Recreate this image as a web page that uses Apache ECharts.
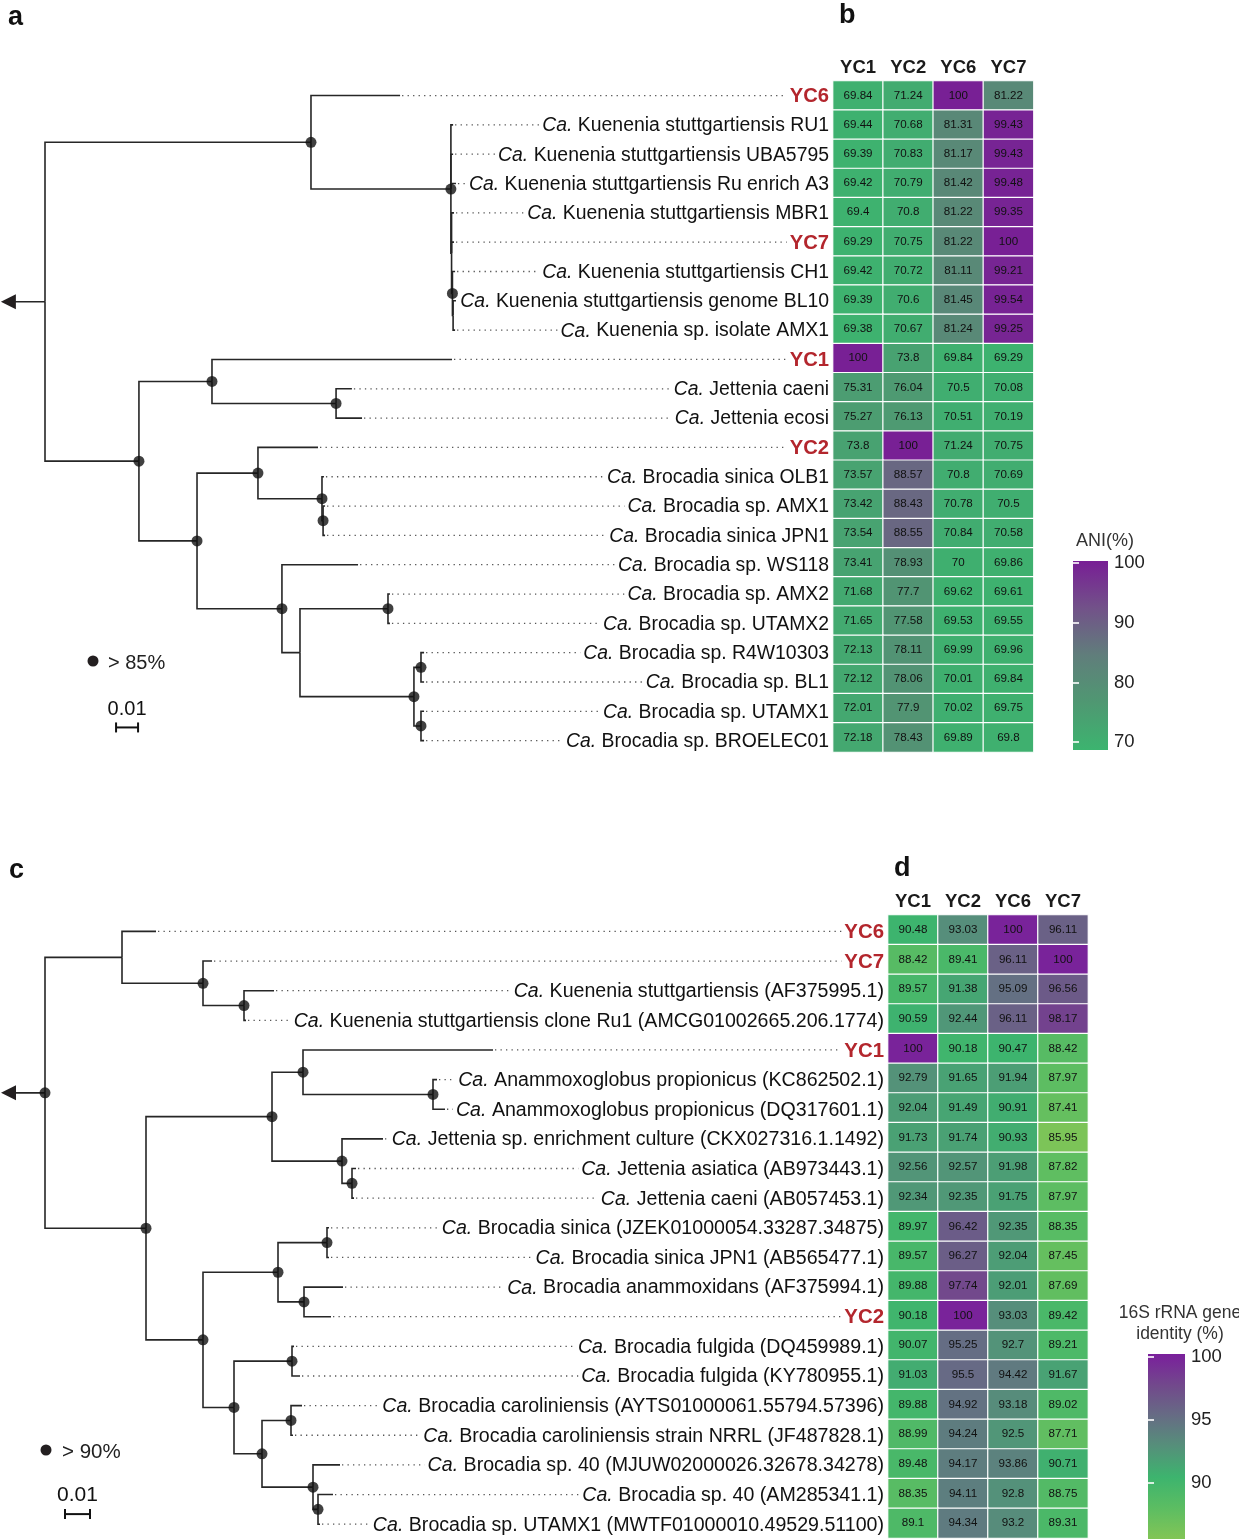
<!DOCTYPE html>
<html><head><meta charset="utf-8">
<script src="https://cdn.jsdelivr.net/npm/echarts@6/dist/echarts.min.js"></script>
<style>html,body{margin:0;padding:0;background:#fff}#c{width:1239px;height:1539px}</style>
</head><body><div id="c"></div>
<script>
// ---------------- DATA ----------------
const heatCols = ['YC1', 'YC2', 'YC6', 'YC7'];

// Tree a (genomes): leaves in display order [label, parent node, depth from root]
const treeALeaves = [
  ['YC6', 'K', 0.1614],
  ['Ca. Kuenenia stuttgartiensis RU1', 'K2', 0.1855],
  ['Ca. Kuenenia stuttgartiensis UBA5795', 'K2', 0.1855],
  ['Ca. Kuenenia stuttgartiensis Ru enrich A3', 'K2', 0.1868],
  ['Ca. Kuenenia stuttgartiensis MBR1', 'K5', 0.1859],
  ['YC7', 'K5', 0.1859],
  ['Ca. Kuenenia stuttgartiensis CH1', 'K3', 0.1864],
  ['Ca. Kuenenia stuttgartiensis genome BL10', 'K4', 0.1868],
  ['Ca. Kuenenia sp. isolate AMX1', 'K4', 0.1864],
  ['YC1', 'J', 0.1850],
  ['Ca. Jettenia caeni', 'Jc', 0.1395],
  ['Ca. Jettenia ecosi', 'Jc', 0.1441],
  ['YC2', 'Br1', 0.1241],
  ['Ca. Brocadia sinica OLB1', 'Br1b', 0.1268],
  ['Ca. Brocadia sp. AMX1', 'Br1c', 0.1273],
  ['Ca. Brocadia sinica JPN1', 'Br1c', 0.1273],
  ['Ca. Brocadia sp. WS118', 'Br2', 0.1423],
  ['Ca. Brocadia sp. AMX2', 'Br2c', 0.1568],
  ['Ca. Brocadia sp. UTAMX2', 'Br2c', 0.1568],
  ['Ca. Brocadia sp. R4W10303', 'Br2e', 0.1723],
  ['Ca. Brocadia sp. BL1', 'Br2e', 0.1723],
  ['Ca. Brocadia sp. UTAMX1', 'Br2f', 0.1723],
  ['Ca. Brocadia sp. BROELEC01', 'Br2f', 0.1723]
];
// internal nodes [id, parent, depth, support > 85%]
const treeANodes = [
  ['R', null, 0, 0],
  ['K', 'R', 0.1209, 1],
  ['K2', 'K', 0.1845, 1],
  ['K5', 'K2', 0.1848, 0],
  ['K3', 'K5', 0.1852, 1],
  ['K4', 'K3', 0.1855, 0],
  ['B', 'R', 0.0427, 1],
  ['J', 'B', 0.0759, 1],
  ['Jc', 'J', 0.1323, 1],
  ['Br', 'B', 0.0691, 1],
  ['Br1', 'Br', 0.0968, 1],
  ['Br1b', 'Br1', 0.1259, 1],
  ['Br1c', 'Br1b', 0.1264, 1],
  ['Br2', 'Br', 0.1077, 1],
  ['Br2b', 'Br2', 0.1159, 0],
  ['Br2c', 'Br2b', 0.1559, 1],
  ['Br2d', 'Br2b', 0.1677, 1],
  ['Br2e', 'Br2d', 0.1709, 1],
  ['Br2f', 'Br2d', 0.1709, 1]
];
const treeAStem = 0.0205;
const aniValues = [
  [69.84, 71.24, 100, 81.22],
  [69.44, 70.68, 81.31, 99.43],
  [69.39, 70.83, 81.17, 99.43],
  [69.42, 70.79, 81.42, 99.48],
  [69.4, 70.8, 81.22, 99.35],
  [69.29, 70.75, 81.22, 100],
  [69.42, 70.72, 81.11, 99.21],
  [69.39, 70.6, 81.45, 99.54],
  [69.38, 70.67, 81.24, 99.25],
  [100, 73.8, 69.84, 69.29],
  [75.31, 76.04, 70.5, 70.08],
  [75.27, 76.13, 70.51, 70.19],
  [73.8, 100, 71.24, 70.75],
  [73.57, 88.57, 70.8, 70.69],
  [73.42, 88.43, 70.78, 70.5],
  [73.54, 88.55, 70.84, 70.58],
  [73.41, 78.93, 70, 69.86],
  [71.68, 77.7, 69.62, 69.61],
  [71.65, 77.58, 69.53, 69.55],
  [72.13, 78.11, 69.99, 69.96],
  [72.12, 78.06, 70.01, 69.84],
  [72.01, 77.9, 70.02, 69.75],
  [72.18, 78.43, 69.89, 69.8]
];
const aniTicks = [70, 80, 90, 100];
const aniRange = [68.7, 100.3];
const aniColors = ['#3cb46f', '#4f9872', '#607e7b', '#725289', '#781e95'];

// Tree c (16S rRNA)
const treeCLeaves = [
  ['YC6', 'C1', 0.0444],
  ['YC7', 'C2', 0.0668],
  ['Ca. Kuenenia stuttgartiensis (AF375995.1)', 'C3', 0.0916],
  ['Ca. Kuenenia stuttgartiensis clone Ru1 (AMCG01002665.206.1774)', 'C3', 0.0804],
  ['YC1', 'C6', 0.1792],
  ['Ca. Anammoxoglobus propionicus (KC862502.1)', 'C7', 0.1568],
  ['Ca. Anammoxoglobus propionicus (DQ317601.1)', 'C7', 0.1600],
  ['Ca. Jettenia sp. enrichment culture (CKX027316.1.1492)', 'C8', 0.1352],
  ['Ca. Jettenia asiatica (AB973443.1)', 'C9', 0.1244],
  ['Ca. Jettenia caeni (AB057453.1)', 'C9', 0.1236],
  ['Ca. Brocadia sinica (JZEK01000054.33287.34875)', 'C12', 0.1136],
  ['Ca. Brocadia sinica JPN1 (AB565477.1)', 'C12', 0.1136],
  ['Ca. Brocadia anammoxidans (AF375994.1)', 'C13', 0.1192],
  ['YC2', 'C13', 0.1144],
  ['Ca. Brocadia fulgida (DQ459989.1)', 'C15', 0.0996],
  ['Ca. Brocadia fulgida (KY780955.1)', 'C15', 0.1020],
  ['Ca. Brocadia caroliniensis (AYTS01000061.55794.57396)', 'C17', 0.1028],
  ['Ca. Brocadia caroliniensis strain NRRL (JF487828.1)', 'C17', 0.0992],
  ['Ca. Brocadia sp. 40 (MJUW02000026.32678.34278)', 'C18', 0.1180],
  ['Ca. Brocadia sp. 40 (AM285341.1)', 'C19', 0.1152],
  ['Ca. Brocadia sp. UTAMX1 (MWTF01000010.49529.51100)', 'C19', 0.1100]
];
const treeCNodes = [
  ['R0', null, 0, 1],
  ['C1', 'R0', 0.0308, 0],
  ['C2', 'C1', 0.0632, 1],
  ['C3', 'C2', 0.0796, 1],
  ['C4', 'R0', 0.0404, 1],
  ['C5', 'C4', 0.0908, 1],
  ['C6', 'C5', 0.1032, 1],
  ['C7', 'C6', 0.1552, 1],
  ['C8', 'C5', 0.1188, 1],
  ['C9', 'C8', 0.1228, 1],
  ['C10', 'C4', 0.0632, 1],
  ['C11', 'C10', 0.0932, 1],
  ['C12', 'C11', 0.1128, 1],
  ['C13', 'C11', 0.1036, 1],
  ['C14', 'C10', 0.0756, 1],
  ['C15', 'C14', 0.0988, 1],
  ['C16', 'C14', 0.0868, 1],
  ['C17', 'C16', 0.0984, 1],
  ['C18', 'C16', 0.1072, 1],
  ['C19', 'C18', 0.1092, 1]
];
const treeCStem = 0.018;
const rrnaValues = [
  [90.48, 93.03, 100, 96.11],
  [88.42, 89.41, 96.11, 100],
  [89.57, 91.38, 95.09, 96.56],
  [90.59, 92.44, 96.11, 98.17],
  [100, 90.18, 90.47, 88.42],
  [92.79, 91.65, 91.94, 87.97],
  [92.04, 91.49, 90.91, 87.41],
  [91.73, 91.74, 90.93, 85.95],
  [92.56, 92.57, 91.98, 87.82],
  [92.34, 92.35, 91.75, 87.97],
  [89.97, 96.42, 92.35, 88.35],
  [89.57, 96.27, 92.04, 87.45],
  [89.88, 97.74, 92.01, 87.69],
  [90.18, 100, 93.03, 89.42],
  [90.07, 95.25, 92.7, 89.21],
  [91.03, 95.5, 94.42, 91.67],
  [89.88, 94.92, 93.18, 89.02],
  [88.99, 94.24, 92.5, 87.71],
  [89.48, 94.17, 93.86, 90.71],
  [88.35, 94.11, 92.8, 88.75],
  [89.1, 94.34, 93.2, 89.31]
];
const rrnaTicks = [90, 95, 100];
const rrnaRange = [85.56, 100.24];
const rrnaColors = ['#82c556', '#5cbd62', '#3db46e', '#55907a', '#666c84', '#72488c', '#7a1f9c'];

const scaleBarLength = 0.01;

// ---------------- HELPERS ----------------
const FAM = '"Liberation Sans", Arial, Helvetica, sans-serif';
const RED = '#b3262d';
const LINE = '#262626';
const mctx = document.createElement('canvas').getContext('2d');
function tw(t, font) { mctx.font = font; return mctx.measureText(t).width; }

function layoutTree(leaves, nodes) {
  const map = {};
  nodes.forEach(n => { map[n[0]] = { id: n[0], parent: n[1], x: n[2], boot: n[3], leaf: false, children: [] }; });
  leaves.forEach((l, i) => { map['leaf' + i] = { id: 'leaf' + i, parent: l[1], x: l[2], y: i, leaf: true, children: [] }; });
  Object.values(map).forEach(n => { if (n.parent) map[n.parent].children.push(n); });
  function gy(n) {
    if (n.leaf) return n.y;
    const ys = n.children.map(gy);
    n.y = (Math.min.apply(null, ys) + Math.max.apply(null, ys)) / 2;
    return n.y;
  }
  const root = map[nodes.find(n => !n[1])[0]];
  gy(root);
  const edges = [];
  Object.values(map).forEach(n => {
    if (n.parent) { const p = map[n.parent]; edges.push([p.x, n.x, n.y, p.y]); }
  });
  const boots = Object.values(map).filter(n => !n.leaf && n.boot).map(n => [n.x, n.y]);
  const tips = leaves.map((l, i) => [map['leaf' + i].x, i]);
  return { edges, boots, tips, root };
}

function leafRender(leaves, xmax, fs) {
  return function (params, api) {
    const lab = leaves[params.dataIndex][0];
    const p = api.coord([api.value(0), api.value(1)]);
    const right = api.coord([xmax, api.value(1)])[0];
    let text, w;
    if (/^YC\d$/.test(lab)) {
      text = '{y|' + lab + '}';
      w = tw(lab, 'bold ' + (fs + 0.8) + 'px ' + FAM);
    } else if (lab.indexOf('Ca. ') === 0) {
      const rest = lab.slice(3);
      text = '{i|Ca.}{n|' + rest + '}';
      w = tw('Ca.', 'italic ' + fs + 'px ' + FAM) + tw(rest, fs + 'px ' + FAM);
    } else {
      text = '{n|' + lab + '}';
      w = tw(lab, fs + 'px ' + FAM);
    }
    const start = right - w - 3;
    const children = [];
    if (start > p[0] + 2) {
      children.push({ type: 'line', shape: { x1: p[0] + 2, y1: p[1], x2: start, y2: p[1] },
        style: { stroke: '#555', lineWidth: 1.3, lineDash: [1.3, 4.2] } });
    }
    children.push({ type: 'text', z2: 10, style: {
      text: text, x: right, y: p[1] + 1, align: 'right', verticalAlign: 'middle',
      rich: {
        i: { fontStyle: 'italic', fontSize: fs, fontFamily: FAM, fill: '#111' },
        n: { fontSize: fs, fontFamily: FAM, fill: '#111' },
        y: { fontWeight: 'bold', fontSize: fs + 0.8, fontFamily: FAM, fill: RED }
      }
    } });
    return { type: 'group', children: children };
  };
}

function edgeRender(params, api) {
  const p0 = api.coord([api.value(0), api.value(3)]);
  const p1 = api.coord([api.value(0), api.value(2)]);
  const p2 = api.coord([api.value(1), api.value(2)]);
  return { type: 'polyline', shape: { points: [p0, p1, p2] },
    style: { stroke: LINE, lineWidth: 1.6, fill: null } };
}

function stemRender(params, api) {
  const p0 = api.coord([api.value(0), api.value(1)]);
  const p1 = api.coord([0, api.value(1)]);
  return { type: 'group', children: [
    { type: 'line', shape: { x1: p0[0] + 10, y1: p0[1], x2: p1[0], y2: p1[1] }, style: { stroke: LINE, lineWidth: 1.7 } },
    { type: 'polygon', shape: { points: [[p0[0] + 1, p0[1]], [p0[0] + 16, p0[1] - 7.5], [p0[0] + 16, p0[1] + 7.5]] }, style: { fill: '#231f20' } }
  ] };
}

function scaleRender(fs) {
  return function (params, api) {
    const a = api.coord([api.value(0), api.value(2)]);
    const b = api.coord([api.value(1), api.value(2)]);
    return { type: 'group', children: [
      { type: 'line', shape: { x1: a[0], y1: a[1], x2: b[0], y2: b[1] }, style: { stroke: '#111', lineWidth: 2 } },
      { type: 'line', shape: { x1: a[0], y1: a[1] - 5, x2: a[0], y2: a[1] + 5 }, style: { stroke: '#111', lineWidth: 2 } },
      { type: 'line', shape: { x1: b[0], y1: b[1] - 5, x2: b[0], y2: b[1] + 5 }, style: { stroke: '#111', lineWidth: 2 } },
      { type: 'text', style: { text: '0.01', x: (a[0] + b[0]) / 2, y: a[1] - 8, align: 'center', verticalAlign: 'bottom',
        fontSize: fs, fontFamily: FAM, fill: '#111' } }
    ] };
  };
}

function cbarRender(colors) {
  return function (params, api) {
    const top = api.coord([0, api.value(3)]);
    const bot = api.coord([1, api.value(1)]);
    const n = colors.length;
    const stops = colors.map((c, k) => ({ offset: 1 - k / (n - 1), color: c })).reverse();
    return { type: 'rect', shape: { x: top[0], y: top[1], width: bot[0] - top[0], height: bot[1] - top[1] },
      style: { fill: new echarts.graphic.LinearGradient(0, 0, 0, 1, stops) } };
  };
}

// ---------------- PANELS ----------------
const grids = [], xAxes = [], yAxes = [], series = [], visualMaps = [];

function addPanel(P) {
  const L = layoutTree(P.leaves, P.nodes);
  const n = P.leaves.length;
  const gT = grids.length;
  grids.push({ left: P.tree.left, top: P.tree.top, width: P.tree.width, height: P.tree.height });
  grids.push({ left: P.heat.left, top: P.heat.top, width: P.heat.width, height: P.heat.height });
  grids.push({ left: P.cbar.left, top: P.cbar.top, width: P.cbar.width, height: P.cbar.height });
  const xT = xAxes.length;
  xAxes.push({ gridIndex: gT, type: 'value', min: 0, max: P.xmax, show: false });
  xAxes.push({ gridIndex: gT + 1, type: 'category', data: heatCols, position: 'top',
    axisLine: { show: false }, axisTick: { show: false },
    axisLabel: { fontWeight: 'bold', fontSize: 18.5, color: '#1a1a1a', margin: 4, fontFamily: FAM } });
  xAxes.push({ gridIndex: gT + 2, type: 'value', min: 0, max: 1, show: false });
  const yT = yAxes.length;
  yAxes.push({ gridIndex: gT, type: 'value', min: -0.5, max: n - 0.5, inverse: true, show: false });
  yAxes.push({ gridIndex: gT + 1, type: 'category', data: P.leaves.map((l, i) => String(i)), inverse: true, show: false });
  yAxes.push({ gridIndex: gT + 2, type: 'value', min: P.range[0], max: P.range[1], position: 'right', z: 10,
    axisLine: { show: false }, splitLine: { show: false },
    axisTick: { show: true, inside: true, length: 6, lineStyle: { color: '#fff', width: 1.6 }, customValues: P.ticks },
    axisLabel: { fontSize: 18.5, color: '#222', margin: 6, fontFamily: FAM, customValues: P.ticks } });
  yAxes.push({ gridIndex: gT + 2, type: 'value', min: P.range[0], max: P.range[1], position: 'left', z: 10,
    axisLine: { show: false }, splitLine: { show: false },
    axisTick: { show: true, inside: true, length: 6, lineStyle: { color: '#fff', width: 1.6 }, customValues: P.ticks },
    axisLabel: { show: false } });

  series.push({ type: 'custom', xAxisIndex: xT, yAxisIndex: yT, renderItem: edgeRender, data: L.edges,
    encode: { x: [0, 1], y: [2, 3] }, clip: false, silent: true, z: 2 });
  series.push({ type: 'custom', xAxisIndex: xT, yAxisIndex: yT, renderItem: leafRender(P.leaves, P.xmax, P.fs),
    data: L.tips, encode: { x: 0, y: 1 }, clip: false, silent: true, z: 3 });
  series.push({ type: 'scatter', xAxisIndex: xT, yAxisIndex: yT, data: L.boots, symbolSize: 11,
    itemStyle: { color: '#111' }, silent: true, z: 5 });
  series.push({ type: 'custom', xAxisIndex: xT, yAxisIndex: yT, renderItem: stemRender,
    data: [[-P.stem, L.root.y]], encode: { x: 0, y: 1 }, clip: false, silent: true, z: 2 });
  series.push({ type: 'custom', xAxisIndex: xT, yAxisIndex: yT, renderItem: scaleRender(P.scaleFs),
    data: [[P.scaleBar[0], P.scaleBar[0] + scaleBarLength, P.scaleBar[1]]], encode: { x: [0, 1], y: 2 },
    clip: false, silent: true, z: 2 });
  const heatIdx = series.length;
  const hd = [];
  P.values.forEach((row, r) => row.forEach((v, c) => hd.push([c, r, v])));
  series.push({ type: 'heatmap', xAxisIndex: xT + 1, yAxisIndex: yT + 1, data: hd,
    itemStyle: { borderColor: '#fff', borderWidth: 1.2 },
    label: { show: true, fontSize: 11.6, color: '#111', fontFamily: FAM, formatter: p => String(p.data[2]) },
    emphasis: { disabled: true }, silent: true });
  series.push({ type: 'custom', xAxisIndex: xT + 2, yAxisIndex: yT + 2, renderItem: cbarRender(P.colors),
    data: [[0, P.range[0], 1, P.range[1]]], encode: { x: [0, 2], y: [1, 3] }, silent: true, z: 1 });
  visualMaps.push({ show: false, seriesIndex: heatIdx, dimension: 2, min: P.range[0], max: P.range[1],
    inRange: { color: P.colors } });
}

addPanel({
  leaves: treeALeaves, nodes: treeANodes, stem: treeAStem, values: aniValues, ticks: aniTicks,
  range: aniRange, colors: aniColors, fs: 19.4, scaleFs: 20, scaleBar: [0.0323, 21.55],
  xmax: 784 / 2200,
  tree: { left: 45, top: 80.9, width: 784, height: 674.4 },
  heat: { left: 833, top: 81, width: 200.5, height: 671 },
  cbar: { left: 1073, top: 561, width: 35, height: 189 }
});
addPanel({
  leaves: treeCLeaves, nodes: treeCNodes, stem: treeCStem, values: rrnaValues, ticks: rrnaTicks,
  range: rrnaRange, colors: rrnaColors, fs: 19.6, scaleFs: 21, scaleBar: [0.008, 19.66],
  xmax: 839 / 2500,
  tree: { left: 45, top: 916.6, width: 839, height: 622.6 },
  heat: { left: 888, top: 915, width: 200, height: 623 },
  cbar: { left: 1148, top: 1354, width: 37, height: 185 }
});

const panelLetter = { fontSize: 27, fontWeight: 'bold', color: '#111', fontFamily: FAM };
const option = {
  animation: false,
  backgroundColor: '#fff',
  textStyle: { fontFamily: FAM },
  title: [
    { text: 'a', left: 3, top: -1, textStyle: panelLetter },
    { text: 'b', left: 834, top: -3, textStyle: panelLetter },
    { text: 'c', left: 4, top: 852, textStyle: panelLetter },
    { text: 'd', left: 889, top: 850, textStyle: panelLetter },
    { text: 'ANI(%)', left: 1071, top: 527, textStyle: { fontSize: 18, fontWeight: 'normal', color: '#333', fontFamily: FAM } },
    { text: '16S rRNA gene\nidentity (%)', left: 1175, top: 1298, textAlign: 'center',
      textStyle: { fontSize: 17.5, fontWeight: 'normal', color: '#333', lineHeight: 21, fontFamily: FAM } }
  ],
  graphic: [
    { type: 'circle', shape: { cx: 93, cy: 661, r: 5.5 }, style: { fill: '#231f20' } },
    { type: 'text', style: { text: '> 85%', x: 108, y: 663, verticalAlign: 'middle', fontSize: 20, fontFamily: FAM, fill: '#222' } },
    { type: 'circle', shape: { cx: 46, cy: 1450, r: 5.5 }, style: { fill: '#231f20' } },
    { type: 'text', style: { text: '> 90%', x: 62, y: 1452, verticalAlign: 'middle', fontSize: 20.5, fontFamily: FAM, fill: '#222' } }
  ],
  grid: grids, xAxis: xAxes, yAxis: yAxes, visualMap: visualMaps, series: series
};
const chart = echarts.init(document.getElementById('c'));
chart.setOption(option);
</script>
</body></html>
